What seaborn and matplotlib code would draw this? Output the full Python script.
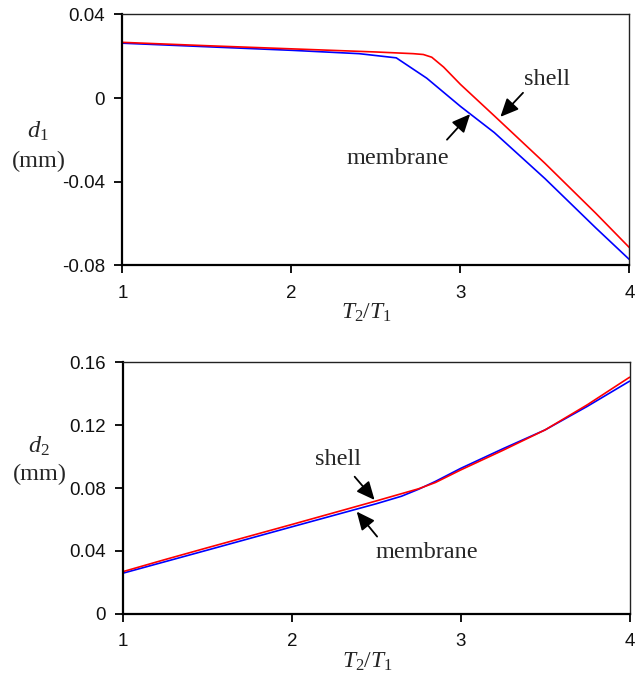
import numpy as np
import pandas as pd
import matplotlib
matplotlib.use("Agg")
import matplotlib.pyplot as plt
import seaborn as sns

# T2/T1 ratios and displacements (mm)
ratio_d1_membrane = [1.0, 1.5, 2.0, 2.4, 2.62, 2.8, 3.0, 3.2, 3.5, 3.8, 4.0]
d1_membrane = [0.0262, 0.0245, 0.0228, 0.0212, 0.0192, 0.0095, -0.0040, -0.0165, -0.0385, -0.0620, -0.0772]

ratio_d1_shell = [1.0, 1.5, 2.0, 2.5, 2.72, 2.78, 2.83, 2.9, 3.0, 3.2, 3.5, 3.8, 4.0]
d1_shell = [0.0266, 0.0250, 0.0235, 0.0220, 0.0212, 0.0208, 0.0195, 0.0148, 0.0065, -0.0085, -0.0312, -0.0550, -0.0715]

ratio_d2_membrane = [1.0, 1.5, 2.0, 2.5, 2.65, 2.75, 2.85, 3.0, 3.25, 3.5, 3.75, 4.0]
d2_membrane = [0.0258, 0.0405, 0.0553, 0.0700, 0.0748, 0.0792, 0.0842, 0.0925, 0.1050, 0.1170, 0.1320, 0.1480]

ratio_d2_shell = [1.0, 1.25, 1.5, 2.0, 2.5, 2.75, 2.85, 3.0, 3.25, 3.5, 3.75, 4.0]
d2_shell = [0.0268, 0.0345, 0.0420, 0.0568, 0.0718, 0.0795, 0.0835, 0.0915, 0.1040, 0.1170, 0.1330, 0.1505]

x_ticks = [1, 2, 3, 4]
d1_ticks = [-0.08, -0.04, 0, 0.04]
d1_tick_labels = ["-0.08", "-0.04", "0", "0.04"]
d2_ticks = [0, 0.04, 0.08, 0.12, 0.16]
d2_tick_labels = ["0", "0.04", "0.08", "0.12", "0.16"]

sns.set_style("ticks")
plt.rcParams["font.family"] = ["Liberation Sans", "DejaVu Sans"]
plt.rcParams["mathtext.fontset"] = "custom"
plt.rcParams["mathtext.rm"] = "Liberation Serif"
plt.rcParams["mathtext.it"] = "Liberation Serif:italic"

palette = {"membrane": "#0000ff", "shell": "#ff0000"}
order = ["membrane", "shell"]


def frame(x1, y1, x2, y2, col):
    return pd.concat([
        pd.DataFrame({"ratio": x1, col: y1, "model": "membrane"}),
        pd.DataFrame({"ratio": x2, col: y2, "model": "shell"}),
    ])


df1 = frame(ratio_d1_membrane, d1_membrane, ratio_d1_shell, d1_shell, "d1")
df2 = frame(ratio_d2_membrane, d2_membrane, ratio_d2_shell, d2_shell, "d2")

fig = plt.figure(figsize=(6.42, 6.75), dpi=100)
ax1 = fig.add_axes([0.1908, 0.6067, 0.7897, 0.3721])
ax2 = fig.add_axes([0.1916, 0.0908, 0.7890, 0.3724])

sns.lineplot(data=df1, x="ratio", y="d1", hue="model", hue_order=order,
             palette=palette, estimator=None, linewidth=1.2, legend=False, ax=ax1)
sns.lineplot(data=df2, x="ratio", y="d2", hue="model", hue_order=order,
             palette=palette, estimator=None, linewidth=1.2, legend=False, ax=ax2)

serif = "Liberation Serif"
arrow = dict(arrowstyle="-|>,head_length=0.55,head_width=0.25", mutation_scale=20,
             color="black", lw=1.3, shrinkA=0, shrinkB=0)

for ax, ticks, labels, ylim, sub, ypos in [
    (ax1, d1_ticks, d1_tick_labels, (-0.08, 0.04), "1", (0.535, 0.415)),
    (ax2, d2_ticks, d2_tick_labels, (0, 0.16), "2", (0.664, 0.555)),
]:
    ax.set_xlim(1, 4)
    ax.set_ylim(*ylim)
    ax.set_xticks(x_ticks)
    ax.set_xticklabels([str(t) for t in x_ticks])
    ax.set_yticks(ticks)
    ax.set_yticklabels(labels)
    ax.tick_params(axis="both", direction="out", length=6, width=1.3,
                   labelsize=13.5, color="black", labelcolor="#111111")
    ax.tick_params(axis="x", pad=8)
    ax.tick_params(axis="y", pad=6.5)
    for side in ["left", "bottom"]:
        ax.spines[side].set_linewidth(1.6)
        ax.spines[side].set_color("black")
    for side in ["top", "right"]:
        ax.spines[side].set_visible(True)
        ax.spines[side].set_linewidth(1.0)
        ax.spines[side].set_color("#222222")
    ax.set_xlabel(r"$T_2/T_1$", fontsize=17)
    ax.xaxis.set_label_coords(0.482, -0.146)
    ax.set_ylabel("")
    ax.text(-0.167, ypos[0], r"$d_{%s}$" % sub, transform=ax.transAxes,
            ha="center", va="center", fontsize=17.5)
    ax.text(-0.164, ypos[1], "(mm)", transform=ax.transAxes, family=serif,
            ha="center", va="center", fontsize=17.5)

# annotations on the d1 panel
ax1.text(3.51, 0.0087, "shell", family=serif, fontsize=17.5,
         ha="center", va="center")
ax1.annotate("", xy=(3.236, -0.009), xytext=(3.37, 0.0025), arrowprops=arrow)
ax1.text(2.63, -0.0289, "membrane", family=serif, fontsize=17.5,
         ha="center", va="center")
ax1.annotate("", xy=(3.057, -0.0077), xytext=(2.92, -0.0199), arrowprops=arrow)

# annotations on the d2 panel
ax2.text(2.275, 0.0982, "shell", family=serif, fontsize=17.5,
         ha="center", va="center")
ax2.annotate("", xy=(2.49, 0.0724), xytext=(2.372, 0.0872), arrowprops=arrow)
ax2.text(2.797, 0.0389, "membrane", family=serif, fontsize=17.5,
         ha="center", va="center")
ax2.annotate("", xy=(2.384, 0.065), xytext=(2.505, 0.0491), arrowprops=arrow)

fig.savefig("out.png", dpi=100)
